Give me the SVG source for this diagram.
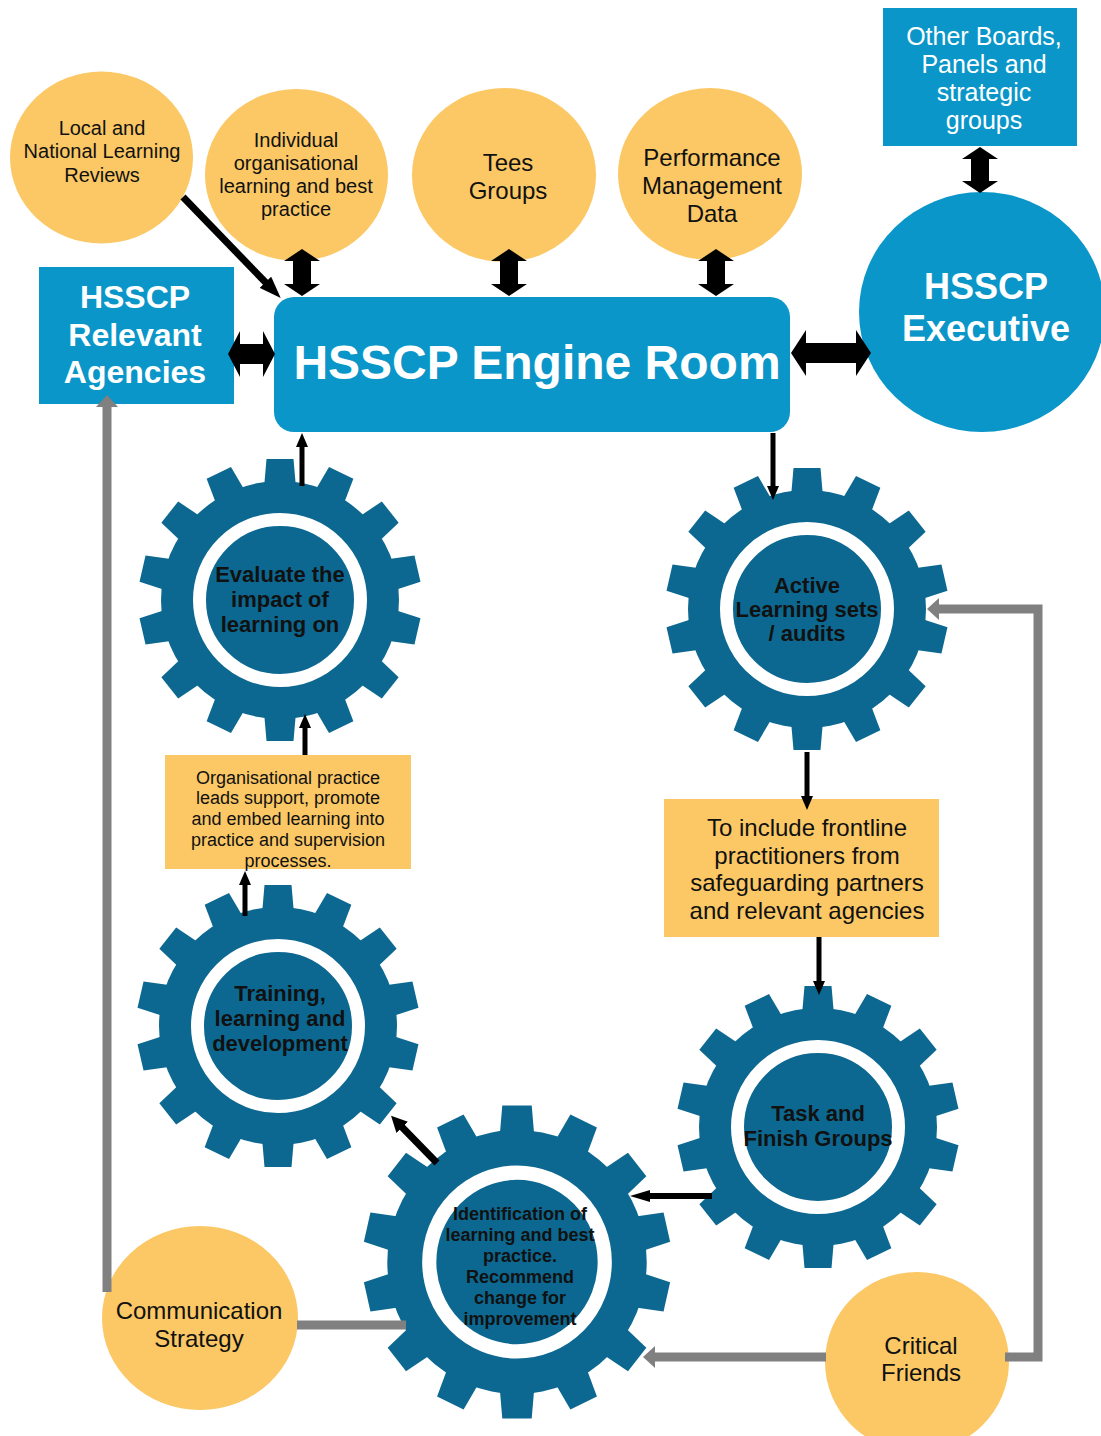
<svg xmlns="http://www.w3.org/2000/svg" width="1101" height="1436" viewBox="0 0 1101 1436">
<style>
.yel{fill:#fbc865}
.blu{fill:#0a96c8}
.t{font-family:'Liberation Sans',Arial,sans-serif;text-anchor:middle}
.w{fill:#ffffff;font-weight:bold}
.k{fill:#111111}
.gt{fill:#111111;font-weight:bold}
.blk{stroke:#000;fill:none}
.gry{stroke:#808080;stroke-width:9;fill:none}
</style>
<defs>
<marker id="ah" viewBox="0 0 14 12" refX="6" refY="6" markerWidth="14" markerHeight="12" markerUnits="userSpaceOnUse" orient="auto"><path d="M0,0 L14,6 L0,12 Z" fill="#000"/></marker>
<marker id="ahL" viewBox="0 0 22 16" refX="8" refY="8" markerWidth="22" markerHeight="16" markerUnits="userSpaceOnUse" orient="auto"><path d="M0,0 L22,8 L0,16 Z" fill="#000"/></marker>
<marker id="ahM" viewBox="0 0 16 16" refX="6" refY="8" markerWidth="16" markerHeight="16" markerUnits="userSpaceOnUse" orient="auto"><path d="M0,0 L16,8 L0,16 Z" fill="#000"/></marker>
<marker id="ahS" viewBox="0 0 20 12" refX="8" refY="6" markerWidth="20" markerHeight="12" markerUnits="userSpaceOnUse" orient="auto"><path d="M0,0 L20,6 L0,12 Z" fill="#000"/></marker>
<marker id="ahG" viewBox="0 0 12 22" refX="4" refY="11" markerWidth="12" markerHeight="22" markerUnits="userSpaceOnUse" orient="auto"><path d="M0,0 L12,11 L0,22 Z" fill="#808080"/></marker>
<g id="gear">
<circle r="119" fill="#0c6890"/>
<g fill="#0c6890">
<polygon id="tooth" points="-16,-112 -13.5,-141 13.5,-141 16,-112"/>
<use href="#tooth" transform="rotate(25.714)"/>
<use href="#tooth" transform="rotate(51.429)"/>
<use href="#tooth" transform="rotate(77.143)"/>
<use href="#tooth" transform="rotate(102.857)"/>
<use href="#tooth" transform="rotate(128.571)"/>
<use href="#tooth" transform="rotate(154.286)"/>
<use href="#tooth" transform="rotate(180)"/>
<use href="#tooth" transform="rotate(205.714)"/>
<use href="#tooth" transform="rotate(231.429)"/>
<use href="#tooth" transform="rotate(257.143)"/>
<use href="#tooth" transform="rotate(282.857)"/>
<use href="#tooth" transform="rotate(308.571)"/>
<use href="#tooth" transform="rotate(334.286)"/>
</g>
<circle r="80.5" fill="none" stroke="#ffffff" stroke-width="13"/>
</g>
</defs>
<rect width="1101" height="1436" fill="#ffffff"/>

<g id="n-local">
<ellipse class="yel" cx="101.5" cy="157.5" rx="91.5" ry="86"/>
<text class="t k" font-size="20"><tspan x="102" y="135">Local and</tspan><tspan x="102" y="158">National Learning</tspan><tspan x="102" y="182">Reviews</tspan></text>
</g>
<g id="n-individual">
<ellipse class="yel" cx="296.5" cy="175" rx="91.5" ry="86"/>
<text class="t k" font-size="20"><tspan x="296" y="147">Individual</tspan><tspan x="296" y="170">organisational</tspan><tspan x="296" y="193">learning and best</tspan><tspan x="296" y="216">practice</tspan></text>
</g>
<g id="n-tees">
<ellipse class="yel" cx="504" cy="175" rx="92" ry="87"/>
<text class="t k" font-size="24"><tspan x="508" y="171">Tees</tspan><tspan x="508" y="199">Groups</tspan></text>
</g>
<g id="n-performance">
<ellipse class="yel" cx="710" cy="174" rx="92" ry="86"/>
<text class="t k" font-size="24"><tspan x="712" y="166">Performance</tspan><tspan x="712" y="194">Management</tspan><tspan x="712" y="222">Data</tspan></text>
</g>
<g id="n-other">
<rect class="blu" x="883" y="8" width="194" height="138"/>
<text class="t" fill="#ffffff" font-size="25"><tspan x="984" y="45">Other Boards,</tspan><tspan x="984" y="73">Panels and</tspan><tspan x="984" y="101">strategic</tspan><tspan x="984" y="129">groups</tspan></text>
</g>
<g id="n-exec">
<ellipse class="blu" cx="982" cy="312" rx="123" ry="120"/>
<text class="t w" font-size="36"><tspan x="986" y="299">HSSCP</tspan><tspan x="986" y="341">Executive</tspan></text>
</g>
<g id="n-agencies">
<rect class="blu" x="39" y="267" width="195" height="137"/>
<text class="t w" font-size="32"><tspan x="135" y="308">HSSCP</tspan><tspan x="135" y="346">Relevant</tspan><tspan x="135" y="383">Agencies</tspan></text>
</g>
<g id="n-engine">
<rect class="blu" x="274" y="297" width="516" height="135" rx="20"/>
<text class="t w" font-size="48" x="537" y="379">HSSCP Engine Room</text>
</g>
<g id="n-evaluate">
<use href="#gear" transform="translate(280,600)"/>
<text class="t gt" font-size="22"><tspan x="280" y="582">Evaluate the</tspan><tspan x="280" y="607">impact of</tspan><tspan x="280" y="632">learning on</tspan></text>
</g>
<g id="n-active">
<use href="#gear" transform="translate(807,609)"/>
<text class="t gt" font-size="22"><tspan x="807" y="593">Active</tspan><tspan x="807" y="617">Learning sets</tspan><tspan x="807" y="641">/ audits</tspan></text>
</g>
<g id="n-org">
<rect class="yel" x="165" y="755" width="246" height="114"/>
<text class="t k" font-size="18"><tspan x="288" y="784">Organisational practice</tspan><tspan x="288" y="804">leads support, promote</tspan><tspan x="288" y="825">and embed learning into</tspan><tspan x="288" y="846">practice and supervision</tspan><tspan x="288" y="867">processes.</tspan></text>
</g>
<g id="n-include">
<rect class="yel" x="664" y="799" width="275" height="138"/>
<text class="t k" font-size="24"><tspan x="807" y="836">To include frontline</tspan><tspan x="807" y="864">practitioners from</tspan><tspan x="807" y="891">safeguarding partners</tspan><tspan x="807" y="919">and relevant agencies</tspan></text>
</g>
<g id="n-training">
<use href="#gear" transform="translate(278,1026)"/>
<text class="t gt" font-size="22"><tspan x="280" y="1001">Training,</tspan><tspan x="280" y="1026">learning and</tspan><tspan x="280" y="1051">development</tspan></text>
</g>
<g id="n-task">
<use href="#gear" transform="translate(818,1127)"/>
<text class="t gt" font-size="22"><tspan x="818" y="1121">Task and</tspan><tspan x="818" y="1146">Finish Groups</tspan></text>
</g>
<g id="n-ident">
<use href="#gear" transform="translate(517,1262) scale(1.09,1.11)"/>
<text class="t gt" font-size="18"><tspan x="520" y="1220">Identification of</tspan><tspan x="520" y="1241">learning and best</tspan><tspan x="520" y="1262">practice.</tspan><tspan x="520" y="1283">Recommend</tspan><tspan x="520" y="1304">change for</tspan><tspan x="520" y="1325">improvement</tspan></text>
</g>
<g id="n-comm">
<ellipse class="yel" cx="200" cy="1318" rx="98" ry="92"/>
<text class="t k" font-size="24"><tspan x="199" y="1319">Communication</tspan><tspan x="199" y="1347">Strategy</tspan></text>
</g>
<g id="n-critical">
<ellipse class="yel" cx="917" cy="1362" rx="92" ry="90"/>
<text class="t k" font-size="24"><tspan x="921" y="1354">Critical</tspan><tspan x="921" y="1381">Friends</tspan></text>
</g>

<g id="connectors">
<polygon points="302,249 320,261 311,261 311,284 320,284 302,296 284,284 293,284 293,261 284,261" fill="#000"/>
<polygon points="509,249 527,261 518,261 518,284 527,284 509,296 491,284 500,284 500,261 491,261" fill="#000"/>
<polygon points="716,249 734,261 725,261 725,284 734,284 716,296 698,284 707,284 707,261 698,261" fill="#000"/>
<polygon points="980,147 998,159 989,159 989,181 998,181 980,193 962,181 971,181 971,159 962,159" fill="#000"/>
<polygon points="228,354 240,331 240,344 263,344 263,331 275,354 263,377 263,364 240,364 240,377" fill="#000"/>
<polygon points="791,353 806,330 806,343 856,343 856,330 871,353 856,376 856,363 806,363 806,376" fill="#000"/>
<line class="blk" x1="183" y1="197" x2="271" y2="288" stroke-width="7" marker-end="url(#ahL)"/>
<line class="blk" x1="302" y1="486" x2="302" y2="441" stroke-width="5" marker-end="url(#ah)"/>
<line class="blk" x1="773" y1="433" x2="773" y2="492" stroke-width="5" marker-end="url(#ah)"/>
<line class="blk" x1="305" y1="755" x2="305" y2="722" stroke-width="5" marker-end="url(#ah)"/>
<line class="blk" x1="807" y1="752" x2="807" y2="802" stroke-width="5" marker-end="url(#ah)"/>
<line class="blk" x1="819" y1="937" x2="819" y2="987" stroke-width="5" marker-end="url(#ah)"/>
<line class="blk" x1="245" y1="916" x2="245" y2="879" stroke-width="5" marker-end="url(#ah)"/>
<line class="blk" x1="712" y1="1196" x2="642" y2="1196" stroke-width="6" marker-end="url(#ahS)"/>
<line class="blk" x1="437" y1="1163" x2="398" y2="1123" stroke-width="7" marker-end="url(#ahM)"/>
<polyline class="gry" points="107,1292 107,403" marker-end="url(#ahG)"/>
<line class="gry" x1="297" y1="1325" x2="406" y2="1325"/>
<polyline class="gry" points="826,1357 651,1357" marker-end="url(#ahG)"/>
<polyline class="gry" points="1005,1357 1038,1357 1038,609 935,609" marker-end="url(#ahG)"/>
</g>
</svg>
